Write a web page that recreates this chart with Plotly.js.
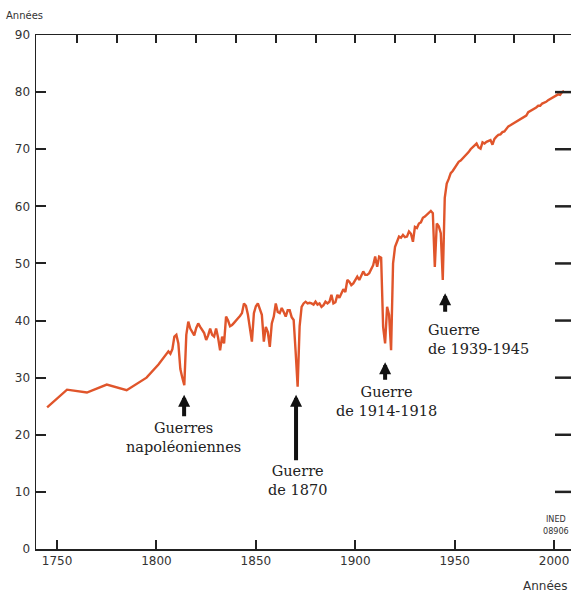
<!DOCTYPE html>
<html>
<head>
<meta charset="utf-8">
<script src="https://cdn.plot.ly/plotly-3.0.1.min.js"></script>
<style>html,body{margin:0;padding:0;background:#fff;overflow:hidden;}#chart{width:571px;height:596px;}</style>
</head>
<body>
<div id="chart"></div>
<script>
// Early estimates (decade mid-points) then annual series
const yearsEarly = [1745, 1755, 1765, 1775, 1785, 1795, 1801];
const lifeEarly  = [24.8, 27.9, 27.4, 28.8, 27.8, 30.0, 32.3];

const yearsAnnualStart = 1806;
const lifeAnnual = [
  // 1806-1815
  34.6, 34.2, 35.0, 37.2, 37.5, 36.0, 31.5, 30.0, 28.7, 37.5,
  // 1816-1825
  39.8, 38.6, 38.0, 37.4, 38.7, 39.5, 38.9, 38.4, 37.8, 36.6,
  // 1826-1835
  37.4, 38.6, 37.5, 37.2, 38.6, 37.0, 34.8, 37.2, 36.0, 40.7,
  // 1836-1845
  40.0, 39.0, 39.2, 39.6, 40.1, 40.4, 40.8, 41.3, 43.0, 42.6,
  // 1846-1855
  41.0, 38.5, 36.3, 41.3, 42.5, 43.0, 42.0, 41.0, 36.3, 38.9,
  // 1856-1865
  38.0, 35.4, 39.5, 40.7, 43.0, 41.5, 41.3, 42.2, 41.5, 40.7,
  // 1866-1875
  41.8, 41.8, 40.6, 40.1, 34.5, 28.4, 39.0, 42.4, 43.0, 43.3,
  // 1876-1885
  43.0, 43.1, 43.0, 42.8, 43.3, 42.8, 43.0, 42.4, 42.7, 43.3,
  // 1886-1895
  43.0, 43.3, 44.5, 43.0, 43.2, 44.5, 44.0, 44.8, 45.5, 45.0,
  // 1896-1905
  47.1, 46.8, 46.2, 46.5, 47.0, 47.7, 47.1, 47.8, 48.6, 48.0,
  // 1906-1915
  48.0, 48.3, 48.9, 49.7, 51.2, 49.4, 51.2, 51.0, 38.9, 36.0,
  // 1916-1925
  42.4, 41.0, 34.8, 50.0, 52.9, 53.8, 54.7, 54.5, 55.0, 54.6,
  // 1926-1935
  54.7, 55.6, 55.2, 53.8, 56.4, 56.2, 57.0, 57.2, 58.0, 58.2,
  // 1936-1945
  58.5, 58.8, 59.2, 58.8, 49.4, 57.0, 56.5, 55.3, 47.1, 61.5,
  // 1946-1955
  64.0, 64.8, 65.8, 66.2, 66.8, 67.3, 67.8, 68.0, 68.4, 68.7,
  // 1956-1965
  69.0, 69.5, 70.0, 70.4, 70.6, 71.0, 70.3, 70.1, 71.2, 71.0,
  // 1966-1975
  71.3, 71.5, 71.6, 70.8, 71.8, 72.2, 72.5, 72.6, 73.0, 73.1,
  // 1976-1985
  73.5, 74.0, 74.2, 74.4, 74.6, 74.8, 75.1, 75.2, 75.5, 75.6,
  // 1986-1995
  75.9, 76.5, 76.7, 76.8, 77.0, 77.3, 77.6, 77.6, 78.0, 78.1,
  // 1996-2005
  78.3, 78.6, 78.8, 78.9, 79.2, 79.4, 79.6, 79.5, 80.0, 80.2
];

const years = yearsEarly.concat(lifeAnnual.map((v, i) => yearsAnnualStart + i));
const life = lifeEarly.concat(lifeAnnual);

const xBottomTicks = [1750, 1800, 1850, 1900, 1950, 2000];
const xTopTicks = [1760, 1780, 1800, 1820, 1840, 1860, 1880, 1900, 1920, 1940, 1960, 1980, 2000];
const yTicks = [0, 10, 20, 30, 40, 50, 60, 70, 80, 90];
const yRightTicks = [10, 20, 30, 40, 50, 60, 70, 80];

const wars = [
  {label: 'Guerres<br>napoléoniennes', year: 1813.9, tip: 27.0, tail: 23, tx: 183, ty: 437, anchor: 'center', align: 'center'},
  {label: 'Guerre<br>de 1870', year: 1870.2, tip: 27.0, tail: 67, tx: 297, ty: 480, anchor: 'center', align: 'center'},
  {label: 'Guerre<br>de 1914-1918', year: 1915.0, tip: 32.7, tail: 19, tx: 386, ty: 401, anchor: 'center', align: 'center'},
  {label: 'Guerre<br>de 1939-1945', year: 1945.2, tip: 44.8, tail: 20, tx: 426, ty: 339, anchor: 'left', align: 'left'}
];

const W = 571, H = 596, L = 36, R = 0, T = 35, B = 47;
const pw = W - L - R, ph = H - T - B;
const px2paper = p => (p - L) / pw;
const py2paper = p => (H - B - p) / ph;

const tickFont = {family: 'DejaVu Sans, sans-serif', size: 12, color: '#333'};
const serif = {family: 'DejaVu Serif, serif', size: 14.5, color: '#222'};

const annotations = [];
wars.forEach(w => {
  annotations.push({
    x: w.year, y: w.tip, xref: 'x', yref: 'y', text: '', showarrow: true,
    ax: 0, ay: w.tail, arrowhead: 2, arrowsize: 0.6, arrowwidth: 4, arrowcolor: '#111', standoff: 0
  });
  annotations.push({
    x: px2paper(w.tx), y: py2paper(w.ty), xref: 'paper', yref: 'paper', text: w.label,
    showarrow: false, xanchor: w.anchor, yanchor: 'middle', align: w.align, font: serif
  });
});
annotations.push({x: px2paper(4), y: py2paper(16), xref: 'paper', yref: 'paper', text: 'Années',
  showarrow: false, xanchor: 'left', yanchor: 'middle', font: {family: 'DejaVu Sans, sans-serif', size: 10, color: '#333'}});
annotations.push({x: px2paper(569), y: py2paper(586), xref: 'paper', yref: 'paper', text: 'Années',
  showarrow: false, xanchor: 'right', yanchor: 'middle', font: {family: 'DejaVu Sans, sans-serif', size: 12, color: '#333'}});
annotations.push({x: px2paper(556), y: py2paper(525), xref: 'paper', yref: 'paper', text: 'INED<br>08906',
  showarrow: false, xanchor: 'center', yanchor: 'middle', align: 'center',
  font: {family: 'DejaVu Sans Condensed, DejaVu Sans, sans-serif', size: 9, color: '#333'}});

// right-hand tick marks (decoration derived from the tick list)
const shapes = yRightTicks.map(v => ({
  type: 'line', xref: 'paper', yref: 'y', x0: px2paper(555), x1: px2paper(571),
  y0: v, y1: v,
  line: {color: '#222', width: 2.5}, layer: 'above'
}));

const data = [
  {x: years, y: life, type: 'scatter', mode: 'lines', line: {color: '#e0552b', width: 2.4}, hoverinfo: 'x+y'},
  {x: years, y: life, type: 'scatter', mode: 'lines', xaxis: 'x2', line: {color: 'rgba(0,0,0,0)', width: 0}, hoverinfo: 'skip'}
];

const xr = [1739.4, 2008.5];
const layout = {
  width: W, height: H,
  margin: {l: L, r: R, t: T, b: B, pad: 0},
  paper_bgcolor: '#fff', plot_bgcolor: '#fff',
  showlegend: false,
  xaxis: {range: xr, tickvals: xBottomTicks, ticktext: xBottomTicks.map(String), ticks: 'inside', ticklen: 9, tickwidth: 2,
    tickcolor: '#222', showline: true, linecolor: '#222', linewidth: 1.5, showgrid: false, zeroline: false,
    tickfont: tickFont, fixedrange: true},
  xaxis2: {range: xr, overlaying: 'x', side: 'top', anchor: 'y', tickvals: xTopTicks, showticklabels: false,
    ticks: 'inside', ticklen: 8, tickwidth: 2, tickcolor: '#222', showline: true, linecolor: '#222', linewidth: 1.5,
    showgrid: false, zeroline: false},
  yaxis: {range: [0, 90], tickvals: yTicks, ticks: 'inside', ticklen: 10, tickwidth: 2, tickcolor: '#222',
    showline: true, linecolor: '#222', linewidth: 1.5, showgrid: false, zeroline: false, tickfont: tickFont,
    ticklabelstandoff: 2},
  shapes: shapes,
  annotations: annotations
};

Plotly.newPlot('chart', data, layout, {displayModeBar: false, staticPlot: true});
</script>
</body>
</html>
